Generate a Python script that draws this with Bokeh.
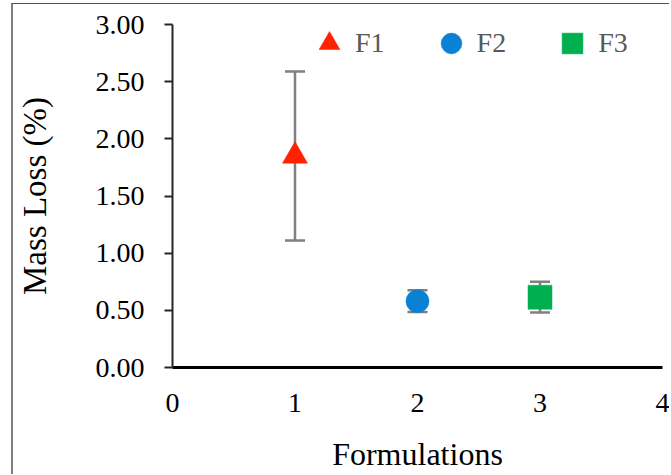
from bokeh.plotting import figure
from bokeh.models import (ColumnDataSource, Whisker, TeeHead, FixedTicker,
                          NumeralTickFormatter, Legend, LegendItem)
from bokeh.embed import file_html
from bokeh.resources import INLINE

# ---- data ----
names = ["F1", "F2", "F3"]
formulation = [1, 2, 3]
mass_loss = [1.85, 0.58, 0.615]
sd = [0.74, 0.095, 0.135]
markers = ["triangle", "circle", "square"]
colors = ["#FF2200", "#0A82D4", "#00B050"]
sizes = [25, 23, 24]
y_ticks = [0, 0.5, 1.0, 1.5, 2.0, 2.5, 3.0]
x_ticks = [0, 1, 2, 3, 4]

FONT = "Liberation Serif"

p = figure(width=658, height=471, x_range=(0, 4), y_range=(0, 3),
           output_backend="svg", toolbar_location=None,
           min_border_left=159, min_border_right=9,
           min_border_top=20, min_border_bottom=108)
p.styles = {"border-left": "2px solid #7f7f7f", "border-top": "1px solid #505050",
            "margin-left": "11px", "margin-top": "3px"}
p.outline_line_color = None
p.xgrid.visible = False
p.ygrid.visible = False
p.background_fill_color = "white"

# error bars
lower = [m - s for m, s in zip(mass_loss, sd)]
upper = [m + s for m, s in zip(mass_loss, sd)]
esrc = ColumnDataSource(dict(x=formulation, lower=lower, upper=upper))
w = Whisker(base="x", lower="lower", upper="upper", source=esrc,
            line_color="#7F7F7F", line_width=2.5, level="underlay",
            upper_head=TeeHead(size=20, line_color="#7F7F7F", line_width=2.5),
            lower_head=TeeHead(size=20, line_color="#7F7F7F", line_width=2.5))
p.add_layout(w)

items = []
for i in range(3):
    src = ColumnDataSource(dict(x=[formulation[i]], y=[mass_loss[i]]))
    r = p.scatter("x", "y", source=src, marker=markers[i], size=sizes[i],
                  fill_color=colors[i], line_color=colors[i], line_width=0.5)
    items.append(LegendItem(label=names[i], renderers=[r]))

legend = Legend(items=items, orientation="horizontal", location=(131, 298),
                glyph_width=52, glyph_height=52, label_standoff=0, spacing=40,
                padding=0, margin=0, border_line_alpha=0, background_fill_alpha=0,
                label_text_font=FONT, label_text_font_size="28px",
                label_text_color="#595959")
p.add_layout(legend, "center")

# axes
xa = p.xaxis[0]
xa.ticker = FixedTicker(ticks=x_ticks)
xa.formatter = NumeralTickFormatter(format="0")
xa.axis_line_color = "black"
xa.axis_line_width = 3
xa.major_tick_line_color = None
xa.minor_tick_line_color = None
xa.major_label_text_font = FONT
xa.major_label_text_font_size = "28px"
xa.major_label_text_color = "black"
xa.major_label_standoff = 20
xa.axis_label = "Formulations"
xa.axis_label_text_font = FONT
xa.axis_label_text_font_size = "32px"
xa.axis_label_text_font_style = "normal"
xa.axis_label_text_color = "black"
xa.axis_label_standoff = 21

ya = p.yaxis[0]
ya.ticker = FixedTicker(ticks=y_ticks)
ya.formatter = NumeralTickFormatter(format="0.00")
ya.axis_line_color = "#262626"
ya.axis_line_width = 2
ya.major_tick_line_color = "#262626"
ya.major_tick_line_width = 2
ya.major_tick_out = 8
ya.major_tick_in = 0
ya.minor_tick_line_color = None
ya.major_label_text_font = FONT
ya.major_label_text_font_size = "28px"
ya.major_label_text_color = "black"
ya.major_label_standoff = 20
ya.axis_label = "Mass Loss (%)"
ya.axis_label_text_font = FONT
ya.axis_label_text_font_size = "33px"
ya.axis_label_text_font_style = "normal"
ya.axis_label_text_color = "black"
ya.axis_label_standoff = 40

open("out.html", "w").write(file_html(p, INLINE))
